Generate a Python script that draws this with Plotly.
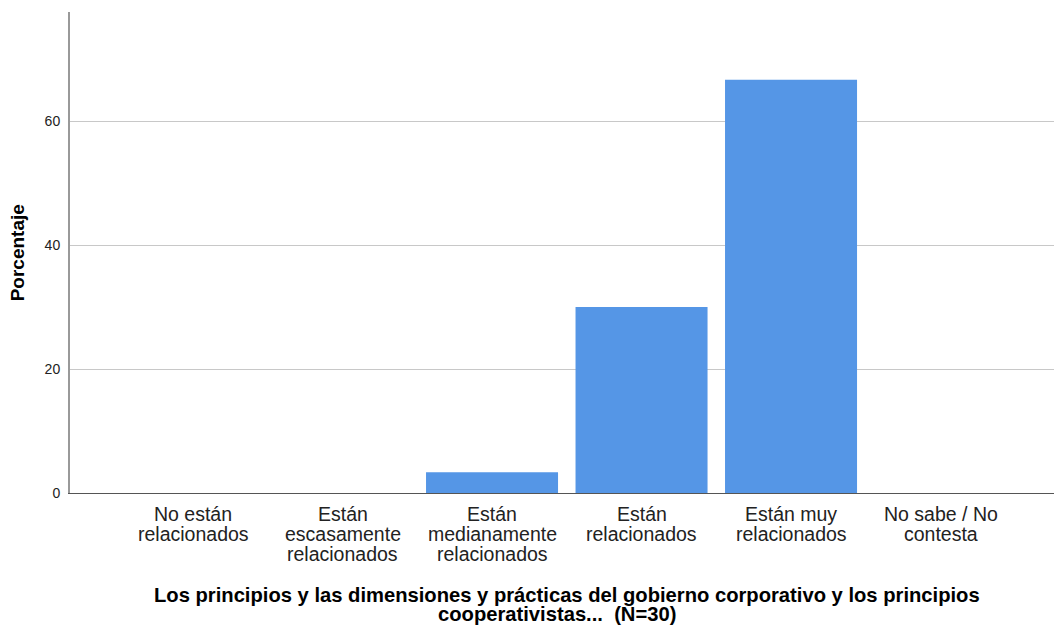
import plotly.graph_objects as go

# Data
categorias = [
    "No están\nrelacionados",
    "Están\nescasamente\nrelacionados",
    "Están\nmedianamente\nrelacionados",
    "Están\nrelacionados",
    "Están muy\nrelacionados",
    "No sabe / No\ncontesta",
]
porcentaje = [0, 0, 3.33, 30.0, 66.67, 0]
y_ticks = [0, 20, 40, 60]
titulo_x = [
    "Los principios y las dimensiones y prácticas del gobierno corporativo y los principios",
    "cooperativistas...  (N=30)",
]
titulo_y = "Porcentaje"

FONT = "Liberation Sans, Arial, sans-serif"

fig = go.Figure(
    go.Bar(
        x=categorias,
        y=porcentaje,
        marker=dict(color="#5596e6", line=dict(width=0)),
        hoverinfo="y",
    )
)

# category labels, one annotation per line so the line spacing stays tight
annots = []
for cat in categorias:
    for i, linea in enumerate(cat.split("\n")):
        annots.append(dict(
            text=linea, xref="x", yref="paper", x=cat, y=0,
            xanchor="center", yanchor="middle", yshift=-21 - 19.8 * i,
            showarrow=False, font=dict(family=FONT, size=19.5, color="#222"),
        ))

# x title (two lines)
for i, (linea, px) in enumerate(zip(titulo_x, [0.505, 0.495])):
    annots.append(dict(
        text="<b>" + linea + "</b>", xref="paper", yref="paper", x=px, y=0,
        xanchor="center", yanchor="middle", yshift=-102 - 18.5 * i,
        showarrow=False, font=dict(family=FONT, size=20.2, color="#000"),
    ))

annots.append(dict(
    text="<b>" + titulo_y + "</b>", xref="paper", yref="paper",
    x=-0.053, y=0.5, xanchor="center", yanchor="middle", textangle=-90,
    showarrow=False, font=dict(family=FONT, size=19, color="#000"),
))

fig.update_layout(
    width=1054,
    height=627,
    margin=dict(l=70, r=0, t=12, b=134),
    paper_bgcolor="white",
    plot_bgcolor="white",
    bargap=0.117,
    showlegend=False,
    font=dict(family=FONT, color="#222"),
    xaxis=dict(
        type="category",
        range=[-0.823, 5.759],
        showgrid=False,
        showline=True,
        linecolor="#555",
        linewidth=1,
        ticks="",
        showticklabels=False,
    ),
    yaxis=dict(
        range=[0, 77.6],
        tickvals=y_ticks,
        showgrid=True,
        gridcolor="#c8c8c8",
        gridwidth=1,
        zeroline=False,
        showline=True,
        linecolor="#999",
        linewidth=2,
        ticks="",
        tickfont=dict(size=14, color="#222"),
        ticklabelstandoff=5,
    ),
    annotations=annots,
)

# drop the default page margin so the figure sits at the window's corner
fig.write_html(
    "out.html",
    config={"displayModeBar": False},
    post_script="document.body.style.margin='0';",
)
